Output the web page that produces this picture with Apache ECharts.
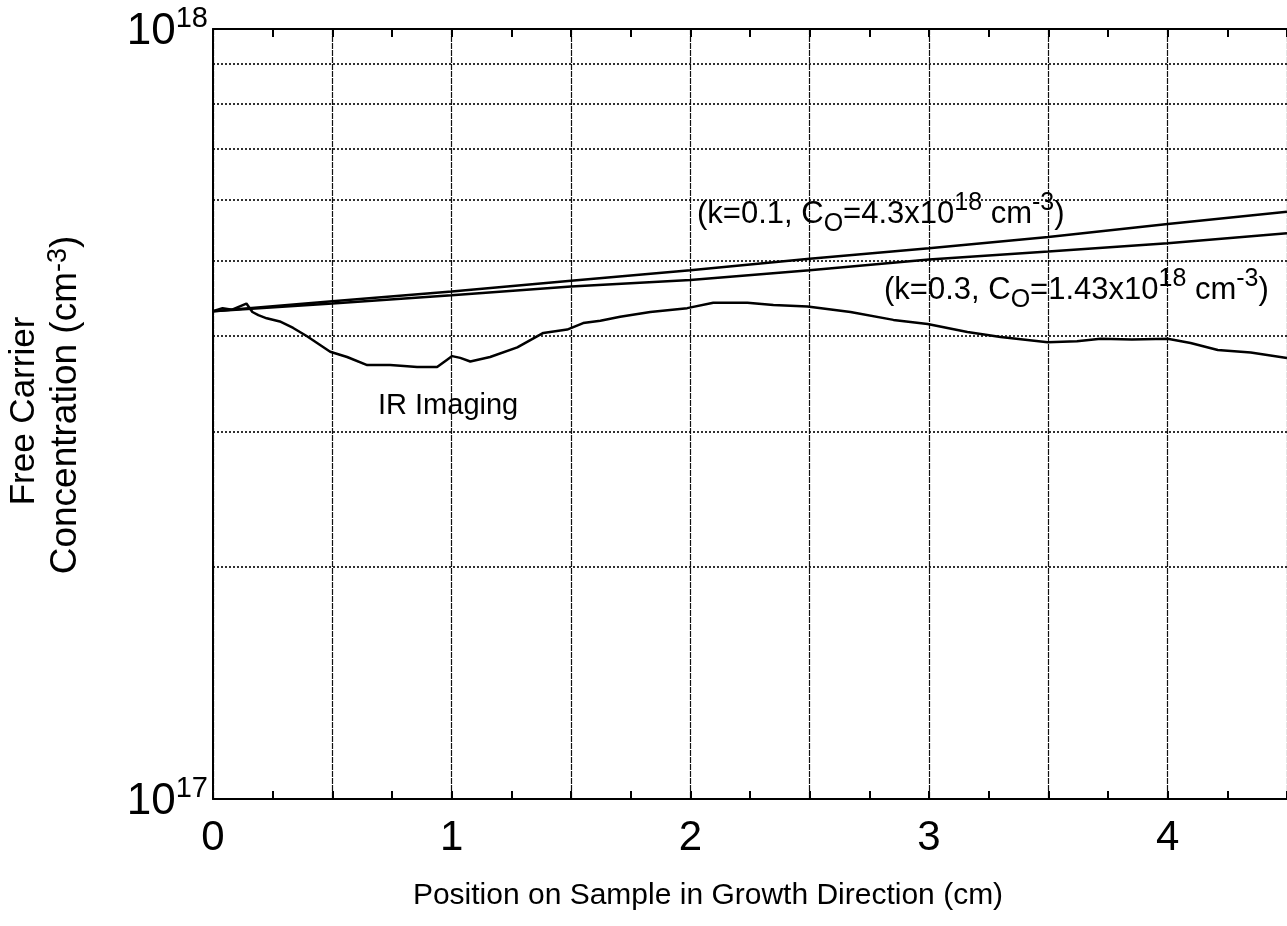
<!DOCTYPE html>
<html><head><meta charset="utf-8">
<script src="https://cdn.jsdelivr.net/npm/echarts@6/dist/echarts.min.js"></script>
<style>html,body{margin:0;padding:0;background:#fff}#c{width:1287px;height:926px}</style>
</head><body><div id="c"></div>
<script>
// Position (cm) and free carrier concentration (cm^-3)
const irX = [0.000, 0.040, 0.080, 0.140, 0.165, 0.190, 0.225, 0.280, 0.336, 0.394, 0.491, 0.562, 0.646, 0.742, 0.800, 0.855, 0.939, 0.981, 1.002, 1.036, 1.078, 1.161, 1.275, 1.384, 1.484, 1.551, 1.623, 1.706, 1.832, 1.987, 2.096, 2.239, 2.348, 2.491, 2.671, 2.851, 2.994, 3.161, 3.300, 3.497, 3.620, 3.719, 3.850, 4.000, 4.096, 4.210, 4.348, 4.500];
const irY = [4.30e17, 4.34e17, 4.32e17, 4.40e17, 4.29e17, 4.25e17, 4.21e17, 4.17e17, 4.09e17, 3.99e17, 3.81e17, 3.75e17, 3.66e17, 3.66e17, 3.65e17, 3.64e17, 3.64e17, 3.72e17, 3.76e17, 3.74e17, 3.70e17, 3.75e17, 3.86e17, 4.03e17, 4.07e17, 4.15e17, 4.18e17, 4.23e17, 4.29e17, 4.34e17, 4.41e17, 4.41e17, 4.38e17, 4.36e17, 4.29e17, 4.19e17, 4.14e17, 4.04e17, 3.98e17, 3.92e17, 3.93e17, 3.96e17, 3.95e17, 3.96e17, 3.91e17, 3.83e17, 3.80e17, 3.74e17];

const fitX = [0, 0.5, 1, 1.5, 2, 2.5, 3, 3.5, 4, 4.5];
const k01Y = [4.30e17, 4.43e17, 4.56e17, 4.71e17, 4.86e17, 5.03e17, 5.19e17, 5.37e17, 5.58e17, 5.79e17];
const k03Y = [4.30e17, 4.40e17, 4.51e17, 4.63e17, 4.72e17, 4.86e17, 5.02e17, 5.14e17, 5.27e17, 5.43e17];

const yGridLevels = [2e17, 3e17, 4e17, 5e17, 6e17, 7e17, 8e17, 9e17];
const xTickLabels = ['0', '1', '2', '3', '4'];

const FONT = 'Liberation Sans, Arial, Helvetica, sans-serif';
const zip = (xs, ys) => xs.map((x, i) => [x, ys[i]]);

const chart = echarts.init(document.getElementById('c'), null, {renderer: 'canvas'});
const axisCommon = {
  type: 'value', min: 0, max: 4.5, interval: 0.5,
  axisLine: {show: true, onZero: false, lineStyle: {color: '#000', width: 2}},
  axisTick: {show: true, inside: true, length: 8, lineStyle: {color: '#000', width: 2}},
  minorTick: {show: true, splitNumber: 2, length: 8, lineStyle: {color: '#000', width: 2}}
};
chart.setOption({
  animation: false,
  backgroundColor: '#fff',
  grid: {left: 213, right: 0, top: 29, bottom: 127, containLabel: false, outerBoundsMode: 'none'},
  xAxis: [
    Object.assign({}, axisCommon, {
      position: 'bottom',
      splitLine: {show: true, lineStyle: {color: '#111', width: 1.2, type: [6, 1]}},
      axisLabel: {
        show: true, margin: 18, color: '#000', fontSize: 42, fontFamily: FONT,
        formatter: v => (Math.abs(v - Math.round(v)) < 1e-9 && xTickLabels[Math.round(v)] !== undefined) ? xTickLabels[Math.round(v)] : ''
      }
    }),
    Object.assign({}, axisCommon, {
      position: 'top',
      splitLine: {show: false},
      axisLabel: {show: false}
    })
  ],
  yAxis: {
    type: 'log', logBase: 10, min: 1e17, max: 1e18, splitNumber: 1,
    axisLine: {show: true, onZero: false, lineStyle: {color: '#000', width: 2}},
    axisTick: {show: false},
    splitLine: {show: false},
    axisLabel: {
      show: true, margin: 5, color: '#000', fontFamily: FONT, padding: [6, 0, 0, 0],
      formatter: v => '{b|10}{s|' + Math.round(Math.log10(v)) + '}',
      rich: {
        b: {fontSize: 44, lineHeight: 56, fontFamily: FONT, color: '#000'},
        s: {fontSize: 29, verticalAlign: 'top', lineHeight: 30, fontFamily: FONT, color: '#000'}
      }
    }
  },
  series: [
    {
      name: 'IR Imaging', type: 'line', data: zip(irX, irY), showSymbol: false, symbol: 'none',
      lineStyle: {color: '#000', width: 2.5}, z: 5,
      markLine: {
        silent: true, symbol: ['none', 'none'], label: {show: false},
        lineStyle: {color: '#000', width: 1.6, type: [2, 2]},
        emphasis: {disabled: true},
        data: yGridLevels.map(v => ({yAxis: v}))
      }
    },
    {name: 'k=0.1', type: 'line', data: zip(fitX, k01Y), showSymbol: false, symbol: 'none', lineStyle: {color: '#000', width: 2.5}, z: 5},
    {name: 'k=0.3', type: 'line', data: zip(fitX, k03Y), showSymbol: false, symbol: 'none', lineStyle: {color: '#000', width: 2.5}, z: 5}
  ],
  graphic: [
    {type: 'text', x: 24, y: 411, rotation: Math.PI / 2,
      style: {text: 'Free Carrier', fontSize: 35, fontFamily: FONT, fill: '#000', align: 'center', verticalAlign: 'middle'}},
    {type: 'text', x: 66, y: 405, rotation: Math.PI / 2,
      style: {text: '{m|Concentration (cm}{s|-3}{m|)}', fontFamily: FONT, fill: '#000', align: 'center', verticalAlign: 'middle',
        rich: {m: {fontSize: 37, lineHeight: 42, fontFamily: FONT, fill: '#000'}, s: {fontSize: 27, verticalAlign: 'top', lineHeight: 26, fontFamily: FONT, fill: '#000'}}}},
    {type: 'text', x: 708, y: 896,
      style: {text: 'Position on Sample in Growth Direction (cm)', fontSize: 30, fontFamily: FONT, fill: '#000', align: 'center', verticalAlign: 'middle'}},
    {type: 'text', x: 378, y: 406, z: 10,
      style: {text: 'IR Imaging', fontSize: 29, fontFamily: FONT, fill: '#000', align: 'left', verticalAlign: 'middle'}},
    {type: 'text', x: 697, y: 214, z: 10,
      style: {text: '{m|(k=0.1, C}{d|O}{m|=4.3x10}{s|18}{m| cm}{s|-3}{m|)}', fontFamily: FONT, fill: '#000', align: 'left', verticalAlign: 'middle',
        rich: {m: {fontSize: 31, lineHeight: 46, fontFamily: FONT}, s: {fontSize: 25, verticalAlign: 'top', lineHeight: 26, fontFamily: FONT}, d: {fontSize: 25, verticalAlign: 'bottom', lineHeight: 26, fontFamily: FONT}}}},
    {type: 'text', x: 884, y: 290, z: 10,
      style: {text: '{m|(k=0.3, C}{d|O}{m|=1.43x10}{s|18}{m| cm}{s|-3}{m|)}', fontFamily: FONT, fill: '#000', align: 'left', verticalAlign: 'middle',
        rich: {m: {fontSize: 31, lineHeight: 46, fontFamily: FONT}, s: {fontSize: 25, verticalAlign: 'top', lineHeight: 26, fontFamily: FONT}, d: {fontSize: 25, verticalAlign: 'bottom', lineHeight: 26, fontFamily: FONT}}}}
  ]
});
</script>
</body></html>
